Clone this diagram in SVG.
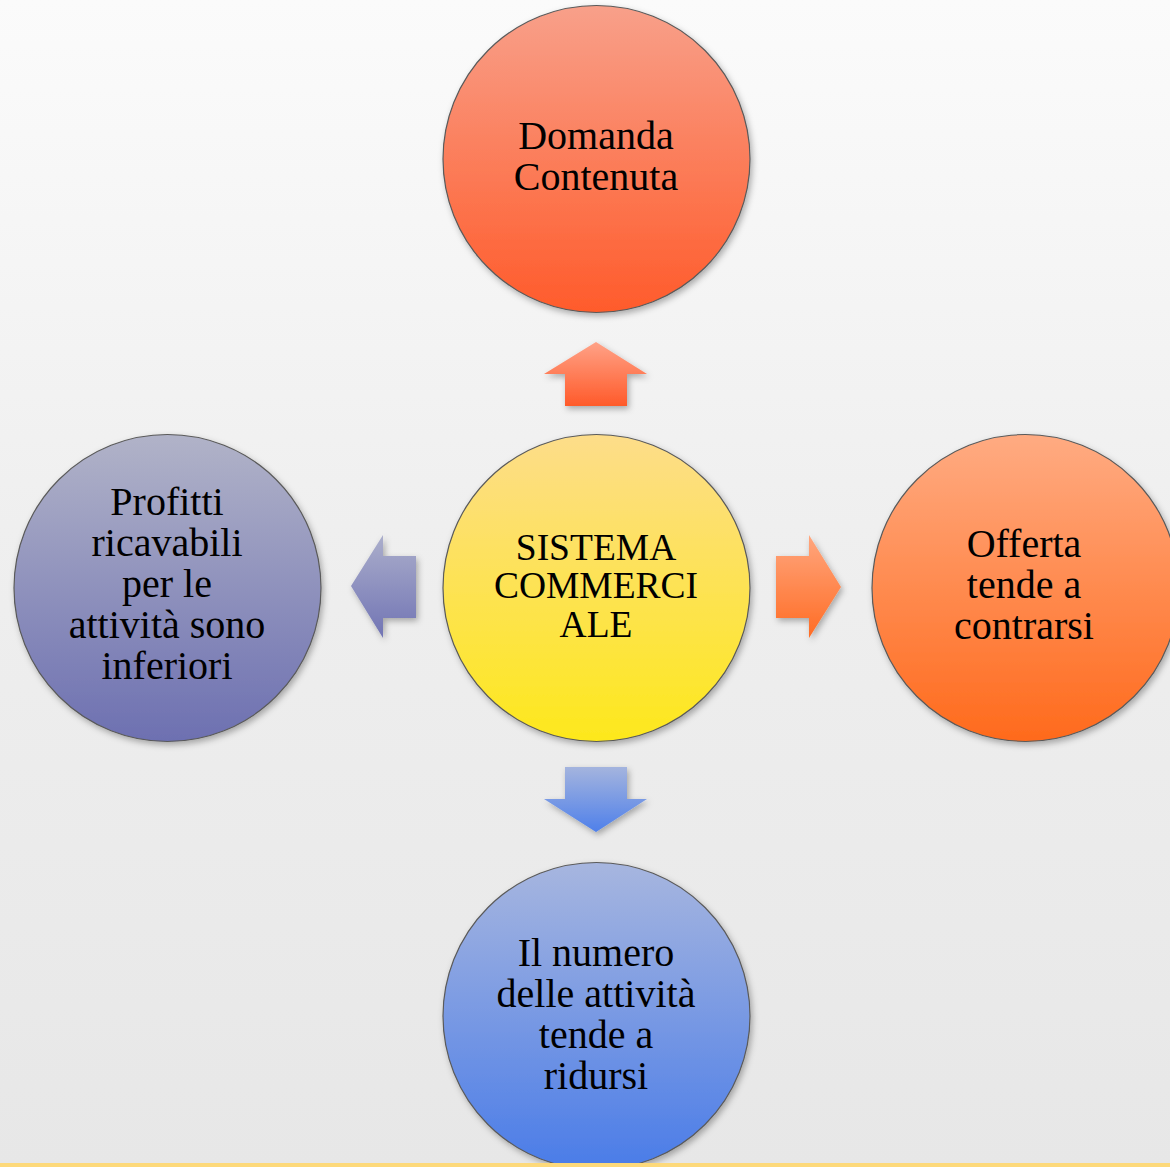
<svg xmlns="http://www.w3.org/2000/svg" width="1170" height="1167" viewBox="0 0 1170 1167">
<defs>
<linearGradient id="bg" x1="0" y1="0" x2="0" y2="1">
<stop offset="0" stop-color="#fbfbfb"/>
<stop offset="0.45" stop-color="#efefef"/>
<stop offset="1" stop-color="#e7e7e7"/>
</linearGradient>
<linearGradient id="gTop" x1="0" y1="0" x2="0" y2="1">
<stop offset="0" stop-color="#f8a08a"/>
<stop offset="1" stop-color="#ff5b2b"/>
</linearGradient>
<linearGradient id="gRight" x1="0" y1="0" x2="0" y2="1">
<stop offset="0" stop-color="#ffab82"/>
<stop offset="1" stop-color="#ff6a1c"/>
</linearGradient>
<linearGradient id="gLeft" x1="0" y1="0" x2="0" y2="1">
<stop offset="0" stop-color="#b1b3c8"/>
<stop offset="1" stop-color="#6d70b1"/>
</linearGradient>
<linearGradient id="gBottom" x1="0" y1="0" x2="0" y2="1">
<stop offset="0" stop-color="#a7b6df"/>
<stop offset="1" stop-color="#4a7ce8"/>
</linearGradient>
<linearGradient id="gCenter" x1="0" y1="0" x2="0" y2="1">
<stop offset="0" stop-color="#fddd8a"/>
<stop offset="1" stop-color="#fde81c"/>
</linearGradient>
<linearGradient id="aUp" x1="0" y1="0" x2="0" y2="1">
<stop offset="0" stop-color="#ffa287"/>
<stop offset="1" stop-color="#ff5a2a"/>
</linearGradient>
<linearGradient id="aRight" x1="0" y1="0" x2="0" y2="1">
<stop offset="0" stop-color="#ffa67e"/>
<stop offset="1" stop-color="#ff6c24"/>
</linearGradient>
<linearGradient id="aLeft" x1="0" y1="0" x2="0" y2="1">
<stop offset="0" stop-color="#abaecb"/>
<stop offset="1" stop-color="#7174b4"/>
</linearGradient>
<linearGradient id="aDown" x1="0" y1="0" x2="0" y2="1">
<stop offset="0" stop-color="#a4b4de"/>
<stop offset="1" stop-color="#4f80ea"/>
</linearGradient>
<filter id="sh" x="-20%" y="-20%" width="140%" height="140%">
<feDropShadow dx="2" dy="3" stdDeviation="3" flood-color="#000" flood-opacity="0.3"/>
</filter>
</defs>
<style>
.circle { stroke: #5a5a5a; stroke-width: 1.2; filter: url(#sh); }
.arrow { filter: url(#sh); }
.lbl { font-family: "Liberation Serif", "Times New Roman", serif; font-size: 40px; fill: #000; text-anchor: middle; }
.caps { font-size: 37.5px; }
</style>
<rect x="0" y="0" width="1170" height="1167" fill="url(#bg)"/>
<g id="connectors">
<polygon class="arrow" fill="url(#aUp)" points="596,342 647,374 627,374 627,406 565,406 565,374 544,374"/>
<polygon class="arrow" fill="url(#aRight)" points="841,587 809,638 809,618 776,618 776,556 809,556 809,535"/>
<polygon class="arrow" fill="url(#aLeft)" points="351,586 383,535 383,556 416,556 416,618 383,618 383,638"/>
<polygon class="arrow" fill="url(#aDown)" points="596,832 647,799 627,799 627,767 565,767 565,799 544,799"/>
</g>
<g id="node-domanda">
<circle class="circle" cx="596.5" cy="159" r="153.5" fill="url(#gTop)"/>
<text class="lbl" x="596" y="149">Domanda</text>
<text class="lbl" x="596" y="190">Contenuta</text>
</g>
<g id="node-sistema">
<circle class="circle" cx="596.5" cy="588" r="153.5" fill="url(#gCenter)"/>
<text class="lbl caps" x="596" y="560">SISTEMA</text>
<text class="lbl caps" x="596" y="598">COMMERCI</text>
<text class="lbl caps" x="596" y="637">ALE</text>
</g>
<g id="node-offerta">
<circle class="circle" cx="1025.5" cy="588" r="153.5" fill="url(#gRight)"/>
<text class="lbl" x="1024" y="557">Offerta</text>
<text class="lbl" x="1024" y="598">tende a</text>
<text class="lbl" x="1024" y="639">contrarsi</text>
</g>
<g id="node-profitti">
<circle class="circle" cx="167.5" cy="588" r="153.5" fill="url(#gLeft)"/>
<text class="lbl" x="167" y="515">Profitti</text>
<text class="lbl" x="167" y="556">ricavabili</text>
<text class="lbl" x="167" y="597">per le</text>
<text class="lbl" x="167" y="638">attività sono</text>
<text class="lbl" x="167" y="679">inferiori</text>
</g>
<g id="node-numero">
<circle class="circle" cx="596.5" cy="1016" r="153.5" fill="url(#gBottom)"/>
<text class="lbl" x="596" y="966">Il numero</text>
<text class="lbl" x="596" y="1007">delle attività</text>
<text class="lbl" x="596" y="1048">tende a</text>
<text class="lbl" x="596" y="1089">ridursi</text>
</g>
<rect x="0" y="1163" width="1170" height="4" fill="#fdd97a"/>
</svg>
